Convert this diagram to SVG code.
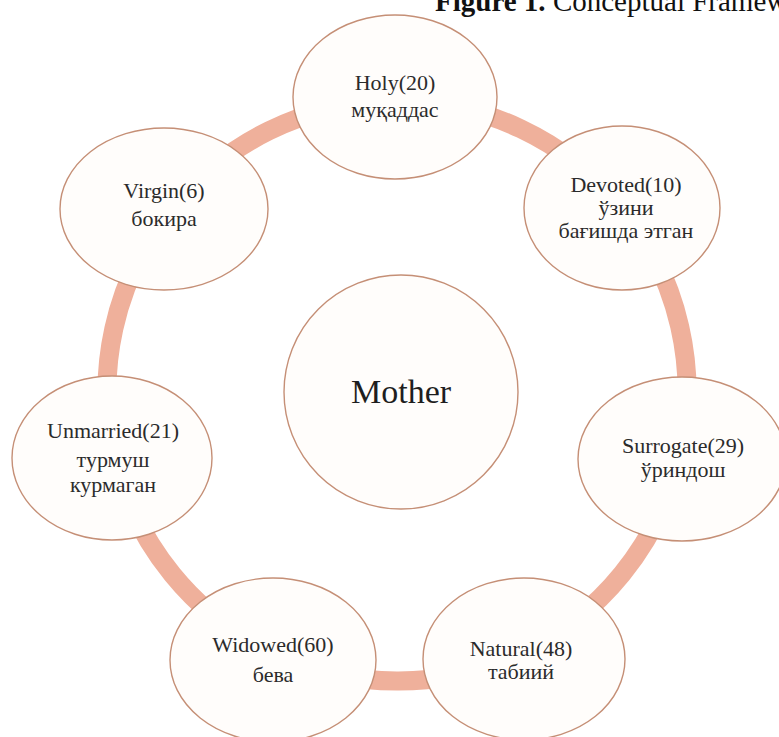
<svg xmlns="http://www.w3.org/2000/svg" width="779" height="737" viewBox="0 0 779 737">
<style>
.node{fill:#fffdfb;stroke:#c58f76;stroke-width:1.4}
.lbl{font-family:"Liberation Serif","Times New Roman",serif;font-size:22px;fill:#2b2b2b;text-anchor:middle}
.big{font-size:34px;fill:#1e1e1e}
.arc{fill:none;stroke:#efb09b;stroke-width:19}
.title{font-family:"Liberation Serif","Times New Roman",serif;font-size:29px;fill:#111}
</style>
<rect width="779" height="737" fill="#ffffff"/>
<text class="title" x="435" y="11"><tspan font-weight="bold">Figure 1.</tspan> Conceptual Framework</text>
<g id="connectors">
<path class="arc" d="M395,101 A290,290 0 0 1 622,208.1"/>
<path class="arc" d="M622,208.1 A290,290 0 0 1 679.1,458.2"/>
<path class="arc" d="M679.1,458.2 A290,290 0 0 1 520.9,653.2"/>
<path class="arc" d="M520.9,653.2 A290,290 0 0 1 275.8,654.5"/>
<path class="arc" d="M275.8,654.5 A290,290 0 0 1 114.7,457.2"/>
<path class="arc" d="M114.7,457.2 A290,290 0 0 1 168.5,212.5"/>
<path class="arc" d="M168.5,212.5 A290,290 0 0 1 395,101"/>
</g>
<g id="mother">
<circle class="node" cx="401" cy="392" r="117"/>
<text class="lbl big" x="401" y="403">Mother</text>
</g>
<g id="holy">
<ellipse class="node" cx="395" cy="97" rx="102" ry="82"/>
<text class="lbl" x="395" y="90">Holy(20)</text>
<text class="lbl" x="395" y="117">муқаддас</text>
</g>
<g id="devoted">
<ellipse class="node" cx="622" cy="208" rx="98" ry="82"/>
<text class="lbl" x="626" y="192">Devoted(10)</text>
<text class="lbl" x="626" y="215">ўзини</text>
<text class="lbl" x="626" y="238">бағишда этган</text>
</g>
<g id="surrogate">
<ellipse class="node" cx="682" cy="459" rx="104" ry="82"/>
<text class="lbl" x="683" y="453">Surrogate(29)</text>
<text class="lbl" x="683" y="477">ўриндош</text>
</g>
<g id="natural">
<ellipse class="node" cx="524" cy="659" rx="101" ry="81"/>
<text class="lbl" x="521" y="656">Natural(48)</text>
<text class="lbl" x="521" y="679">табиий</text>
</g>
<g id="widowed">
<ellipse class="node" cx="273" cy="660" rx="103" ry="82"/>
<text class="lbl" x="273" y="652">Widowed(60)</text>
<text class="lbl" x="273" y="682">бева</text>
</g>
<g id="unmarried">
<ellipse class="node" cx="112" cy="458" rx="100" ry="82"/>
<text class="lbl" x="113" y="438">Unmarried(21)</text>
<text class="lbl" x="113" y="467">турмуш</text>
<text class="lbl" x="113" y="492">курмаган</text>
</g>
<g id="virgin">
<ellipse class="node" cx="164" cy="209" rx="104" ry="81"/>
<text class="lbl" x="164" y="198">Virgin(6)</text>
<text class="lbl" x="164" y="226">бокира</text>
</g>
</svg>
